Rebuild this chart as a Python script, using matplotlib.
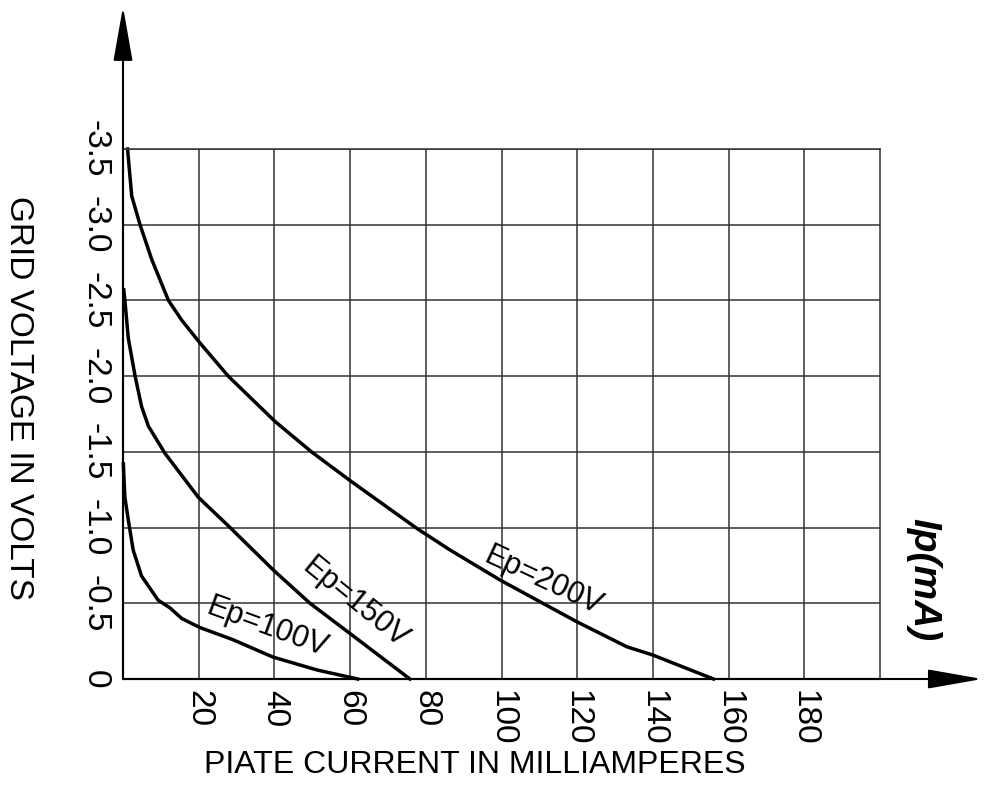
import matplotlib
matplotlib.use('Agg')
import matplotlib.pyplot as plt

plt.rcParams['font.family'] = ['Liberation Sans', 'DejaVu Sans']

# plate current (mA) vs grid voltage (V)
ep100_i = [0.1, 0.3, 0.5, 1.4, 2.7, 4.9, 9.3, 12.4, 15.5, 20.3, 29, 39.6, 51.2, 62]
ep100_v = [-1.42, -1.3, -1.2, -1.05, -0.85, -0.68, -0.52, -0.47, -0.40, -0.34, -0.26, -0.145, -0.06, 0]

ep150_i = [0.2, 0.5, 1.4, 3.2, 4.9, 6.7, 11.1, 19.9, 28.3, 39.7, 49.4, 60, 75.8]
ep150_v = [-2.57, -2.5, -2.25, -2.0, -1.8, -1.67, -1.49, -1.2, -1.0, -0.72, -0.5, -0.3, 0]

ep200_i = [1.2, 2.3, 4.5, 7.6, 12.0, 15.5, 20.3, 27.8, 40.2, 49.8, 60, 77.6, 86.4, 99.6, 119.9, 133.1, 140, 156]
ep200_v = [-3.5, -3.19, -3.0, -2.77, -2.5, -2.37, -2.22, -2.0, -1.70, -1.50, -1.31, -0.995, -0.852, -0.654, -0.378, -0.213, -0.158, 0]

x_ticks = [20, 40, 60, 80, 100, 120, 140, 160, 180]
y_ticks = [0, -0.5, -1.0, -1.5, -2.0, -2.5, -3.0, -3.5]
y_labels = ['0', '-0.5', '-1.0', '-1.5', '-2.0', '-2.5', '-3.0', '-3.5']

fig = plt.figure(figsize=(9.93, 8.07), dpi=100)
ax = fig.add_axes([123/993, 1 - 679/807, (880 - 123)/993, (679 - 149)/807])

ax.set_xlim(0, 200)
ax.set_ylim(0, -3.5)

ax.set_xticks(x_ticks)
ax.set_xticklabels([str(t) for t in x_ticks], rotation=270, fontsize=24, va='top', ha='center')
ax.set_yticks(y_ticks)
ax.set_yticklabels(y_labels, rotation=270, fontsize=24, va='center', ha='right')
ax.tick_params(axis='x', length=0, pad=8)
ax.tick_params(axis='y', length=0, pad=9)
ax.grid(True, color='#333333', lw=1.1)

for s in ['top', 'right']:
    ax.spines[s].set_color('#333333')
    ax.spines[s].set_linewidth(1.1)
for s in ['left', 'bottom']:
    ax.spines[s].set_color('black')
    ax.spines[s].set_linewidth(1.5)

# axis arrows
arr = dict(arrowstyle='-|>,head_length=3.4,head_width=0.6', mutation_scale=10,
           color='black', lw=1.5, shrinkA=0, shrinkB=0)
ax.annotate('', xy=(0, -4.44), xytext=(0, 0), arrowprops=arr, annotation_clip=False)
ax.annotate('', xy=(227, 0), xytext=(0, 0), arrowprops=arr, annotation_clip=False)

ax.plot(ep100_i, ep100_v, color='black', lw=2.5, clip_on=False)
ax.plot(ep150_i, ep150_v, color='black', lw=2.5, clip_on=False)
ax.plot(ep200_i, ep200_v, color='black', lw=2.5, clip_on=False)

ax.text(38.0, -0.337, 'Ep=100V', rotation=-20, fontsize=22, ha='center', va='center')
ax.text(61.3, -0.50, 'Ep=150V', rotation=-39, fontsize=22, ha='center', va='center')
ax.text(111, -0.647, 'Ep=200V', rotation=-25, fontsize=22, ha='center', va='center')
ax.text(211.4, -0.654, 'Ip(mA)', rotation=270, fontsize=28, fontweight='bold',
        fontstyle='italic', ha='center', va='center', clip_on=False)

fig.text(475/993, 1 - 765/807, 'PIATE CURRENT IN MILLIAMPERES', fontsize=23,
         ha='center', va='center')
fig.text(18/993, 1 - 398/807, 'GRID VOLTAGE IN VOLTS', fontsize=24,
         rotation=270, ha='center', va='center')

fig.savefig('out.png', dpi=100)
